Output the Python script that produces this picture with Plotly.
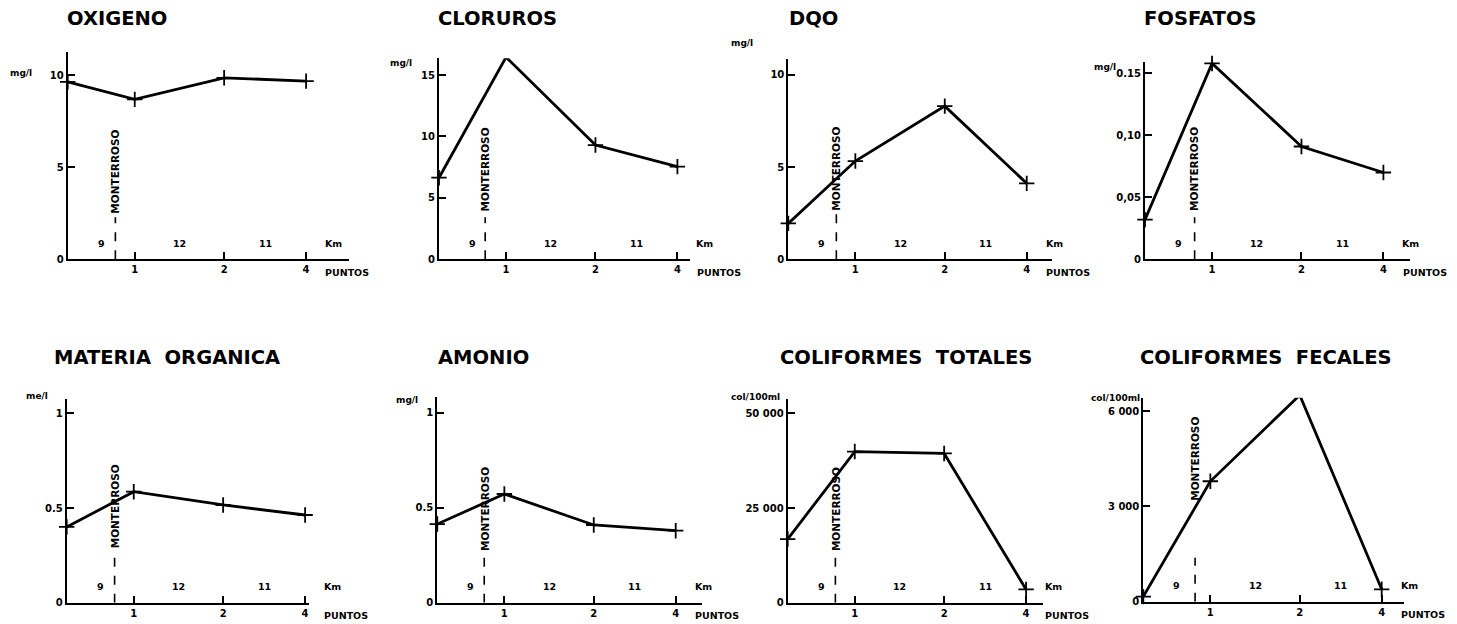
import plotly.graph_objects as go

# ---------------- data ----------------
segment_km = [9, 12, 11]            # distances between sampling points (Km)
point_labels = ["1", "2", "4"]      # PUNTOS
km = [0]
for d in segment_km:
    km.append(km[-1] + d)

titles = ["OXIGENO", "CLORUROS", "DQO", "FOSFATOS",
          "MATERIA  ORGANICA", "AMONIO", "COLIFORMES  TOTALES", "COLIFORMES  FECALES"]
units = ["mg/l", "mg/l", "mg/l", "mg/l", "me/l", "mg/l", "col/100ml", "col/100ml"]

oxigeno = [9.63, 8.68, 9.85, 9.67]
cloruros = [6.64, 16.45, 9.3, 7.54]
dqo = [1.95, 5.33, 8.31, 4.12]
fosfatos = [0.032, 0.158, 0.091, 0.070]
materia_organica = [0.40, 0.586, 0.516, 0.463]
amonio = [0.414, 0.572, 0.409, 0.379]
coliformes_totales = [16800, 39900, 39400, 3500]
coliformes_fecales = [160, 3790, 6500, 390]

series = [oxigeno, cloruros, dqo, fosfatos, materia_organica, amonio,
          coliformes_totales, coliformes_fecales]

ytick_vals = [[0, 5, 10], [0, 5, 10, 15], [0, 5, 10], [0, 0.05, 0.10, 0.15],
              [0, 0.5, 1], [0, 0.5, 1], [0, 25000, 50000], [0, 3000, 6000]]
ytick_text = [["0", "5", "10"], ["0", "5", "10", "15"], ["0", "5", "10"],
              ["0", "0,05", "0,10", "0.15"], ["0", "0.5", "1"], ["0", "0.5", "1"],
              ["0", "25 000", "50 000"], ["0", "3 000", "6 000"]]
y_max = [11.25, 16.36, 10.85, 0.1594, 1.074, 1.081, 53700, 6419]

monterroso_km = [6.4, 6.2, 6.45, 6.66, 6.43, 6.3, 6.4, 6.95]
monterroso_label = "MONTERROSO"

# ---------------- layout (pixels, in window coordinates) ----------------
OFF = 8                      # default page margin of the browser body
W, H = 1457 - OFF, 624 - OFF
PPK = 7.45  # pixels per km


def px_x(px):
    return (px - OFF) / W


def px_y(py):
    return 1 - (py - OFF) / H


# left px, x max (km), y0 px, ytop px
geom = [
    (67.7, 37.8, 259.3, 52.0),
    (439.0, 33.7, 259.3, 58.3),
    (788.3, 35.4, 259.3, 59.3),
    (1145.0, 35.6, 259.3, 61.7),
    (66.7, 32.5, 602.7, 399.3),
    (437.3, 35.5, 602.7, 397.3),
    (787.7, 34.3, 602.7, 399.3),
    (1143.3, 35.0, 601.7, 397.7),
]
title_pos = [(65, 18), (436, 18), (787, 18), (1142, 18),
             (52, 357), (436, 357), (778, 357), (1138, 357)]
unit_pos = [(21, 73), (401, 63), (742, 43), (1105, 67),
            (37, 396), (407, 400), (755, 397), (1115, 398)]
# dashed top (px above axis), text bottom (px above axis)
mont_geom = [(42, 44), (42, 46), (46, 47), (42, 46),
             (49, 52), (49, 50), (46, 50), (44, 99)]

BOLD = dict(family="DejaVu Sans", color="black", weight="bold")

fig = go.Figure()
annotations = []
shapes = []

for i in range(8):
    n = i + 1
    xa = "x" if n == 1 else f"x{n}"
    ya = "y" if n == 1 else f"y{n}"
    left, xmax, y0, ytop = geom[i]
    right = left + xmax * PPK

    fig.add_trace(go.Scatter(
        x=km, y=series[i], mode="lines+markers",
        line=dict(color="black", width=2.8),
        marker=dict(symbol="cross-thin", size=11, line=dict(width=1.8, color="black"), color="black"),
        xaxis=xa, yaxis=ya, showlegend=False, cliponaxis=False,
        hoverinfo="x+y",
    ))

    fig.layout[f"xaxis{'' if n == 1 else n}"] = dict(
        domain=[px_x(left), px_x(right)], range=[0, xmax], anchor=ya,
        showline=True, linecolor="black", linewidth=2,
        showgrid=False, zeroline=False, automargin=False,
        ticks="inside", ticklen=7, tickwidth=2, tickcolor="black",
        tickvals=km[1:], ticktext=point_labels,
        tickfont=dict(size=10, **BOLD), fixedrange=True,
    )
    fig.layout[f"yaxis{'' if n == 1 else n}"] = dict(
        domain=[px_y(y0), px_y(ytop)], range=[0, y_max[i]], anchor=xa,
        showline=True, linecolor="black", linewidth=2,
        showgrid=False, zeroline=False, automargin=False,
        ticks="inside", ticklen=7, tickwidth=1.5, tickcolor="black",
        tickvals=ytick_vals[i], ticktext=ytick_text[i],
        tickfont=dict(size=10, **BOLD), fixedrange=True,
    )

    # title
    tx, ty = title_pos[i]
    annotations.append(dict(xref="paper", yref="paper", x=px_x(tx), y=px_y(ty),
                            xanchor="left", yanchor="middle", showarrow=False,
                            text=titles[i], font=dict(size=19.5, **BOLD)))
    # unit
    ux, uy = unit_pos[i]
    annotations.append(dict(xref="paper", yref="paper", x=px_x(ux), y=px_y(uy),
                            xanchor="center", yanchor="middle", showarrow=False,
                            text=units[i], font=dict(size=9, **BOLD)))
    # distance labels
    for j, d in enumerate(segment_km):
        annotations.append(dict(xref=xa, yref=f"{ya} domain", x=(km[j] + km[j + 1]) / 2, y=0,
                                yshift=16, xanchor="center", yanchor="middle", showarrow=False,
                                text=str(d), font=dict(size=9.5, **BOLD)))
    km_px = left + (km[-1] + 3.7) * PPK
    pu_px = left + (km[-1] + 2.3) * PPK
    annotations.append(dict(xref="paper", yref=f"{ya} domain", x=px_x(km_px), y=0,
                            yshift=16, xanchor="center", yanchor="middle", showarrow=False,
                            text="Km", font=dict(size=9.5, **BOLD)))
    annotations.append(dict(xref="paper", yref=f"{ya} domain", x=px_x(pu_px), y=0,
                            yshift=-13, xanchor="left", yanchor="middle", showarrow=False,
                            text="PUNTOS", font=dict(size=9.5, **BOLD)))
    # Monterroso
    dtop, tbot = mont_geom[i]
    shapes.append(dict(type="line", xref=xa, yref=ya, ysizemode="pixel", yanchor=0,
                       x0=monterroso_km[i], x1=monterroso_km[i], y0=0, y1=dtop,
                       line=dict(color="black", width=1.6, dash="dash")))
    annotations.append(dict(xref=xa, yref=f"{ya} domain", x=monterroso_km[i], y=0,
                            yshift=tbot, xanchor="center", yanchor="bottom", showarrow=False,
                            textangle=-90, text=monterroso_label, font=dict(size=10.5, **BOLD)))

fig.update_layout(
    width=W, height=H, margin=dict(l=0, r=0, t=0, b=0),
    paper_bgcolor="white", plot_bgcolor="white",
    annotations=annotations, shapes=shapes,
)

fig.write_html("out.html")
